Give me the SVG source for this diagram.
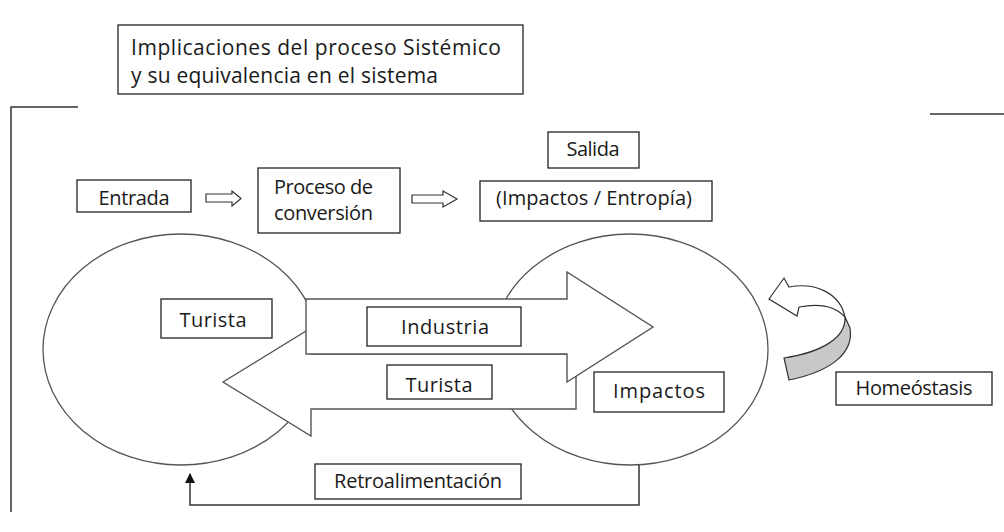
<svg xmlns="http://www.w3.org/2000/svg" width="1004" height="532" viewBox="0 0 1004 532">
<style>
.box{fill:#fff;stroke:#222;stroke-width:1.3}
.t{font-family:"Open Sans","Liberation Sans",sans-serif;font-size:20px;fill:#1a1a1a}
.tt{font-size:21px}
.c{text-anchor:middle}
.circ{fill:#fff;stroke:#555;stroke-width:1.3}
.big{fill:#fff;stroke:#555;stroke-width:1.4;stroke-linejoin:miter}
.ln{fill:none;stroke:#333;stroke-width:1.5}
.sa{fill:#fff;stroke:#333;stroke-width:1.2}
</style>
<defs>
<marker id="ah" viewBox="0 0 10 10" refX="9" refY="5" markerWidth="10" markerHeight="10" markerUnits="userSpaceOnUse" orient="auto">
<path d="M0,0 L10,5 L0,10 Z" fill="#111"/>
</marker>
</defs>
<rect width="1004" height="532" fill="#fff"/>
<g id="frame">
<path class="ln" d="M78,107 H11 V512"/>
<path class="ln" d="M930,114 H1004"/>
</g>
<g id="title">
<rect class="box" x="118" y="25" width="405" height="69"/>
<text class="t tt" x="131" y="55" textLength="370">Implicaciones del proceso Sistémico</text>
<text class="t tt" x="131" y="83" textLength="307">y su equivalencia en el sistema</text>
</g>
<g id="circle-turista"><ellipse class="circ" cx="181" cy="349.5" rx="138" ry="115.5"/></g>
<g id="circle-impactos"><ellipse class="circ" cx="630" cy="349.5" rx="138" ry="115.5"/></g>
<g id="connectors">
<path class="sa" d="M206,194 H232 V191 L241,198.5 L232,206 V202 H206 Z"/>
<path class="sa" d="M412,195 H443 V191 L457,199 L443,207 V203 H412 Z"/>
<path class="big" d="M223,382 L311,328 V354 H576 V409 H311 V436 Z"/>
<path class="big" d="M306,299 H567 V272 L653,327 L567,382 V354 H306 Z"/>
<path class="ln" d="M639,465 V505 H190 V474" marker-end="url(#ah)"/>
<path fill="#fff" stroke="#333" stroke-width="1.2" d="M769,299 L784,278 L789,287 C815,282 840,293 845,317 C836,307 820,303 799,307 L797,316 Z"/>
<path fill="#c8c8c8" stroke="#333" stroke-width="1.2" d="M845,317 C846,338 822,352 784,358 L789,380 C833,371 854,352 850,328 Z"/>
</g>
<g id="entrada"><rect class="box" x="77" y="180" width="114" height="32"/><text class="t c" x="134" y="205" textLength="71">Entrada</text></g>
<g id="proceso"><rect class="box" x="258" y="168" width="142" height="65"/><text class="t" x="274" y="194" textLength="99">Proceso de</text><text class="t" x="274" y="220" textLength="99">conversión</text></g>
<g id="salida"><rect class="box" x="548" y="132" width="91" height="36"/><text class="t c" x="593" y="156" textLength="53">Salida</text></g>
<g id="entropia"><rect class="box" x="480" y="181" width="232" height="40"/><text class="t c" x="594" y="205" textLength="196">(Impactos / Entropía)</text></g>
<g id="turista-1"><rect class="box" x="161" y="299" width="111" height="39"/><text class="t c" x="213" y="327" textLength="67">Turista</text></g>
<g id="industria"><rect class="box" x="367" y="307" width="154" height="39"/><text class="t c" x="445" y="334" textLength="88">Industria</text></g>
<g id="turista-2"><rect class="box" x="387" y="365" width="105" height="34"/><text class="t c" x="439" y="392" textLength="67">Turista</text></g>
<g id="impactos"><rect class="box" x="594" y="372" width="130" height="40"/><text class="t c" x="659" y="398" textLength="92">Impactos</text></g>
<g id="homeostasis"><rect class="box" x="836" y="372" width="156" height="33"/><text class="t c" x="914" y="395" textLength="117">Homeóstasis</text></g>
<g id="retro"><rect class="box" x="315" y="464" width="206" height="35"/><text class="t c" x="418" y="488" textLength="168">Retroalimentación</text></g>
</svg>
